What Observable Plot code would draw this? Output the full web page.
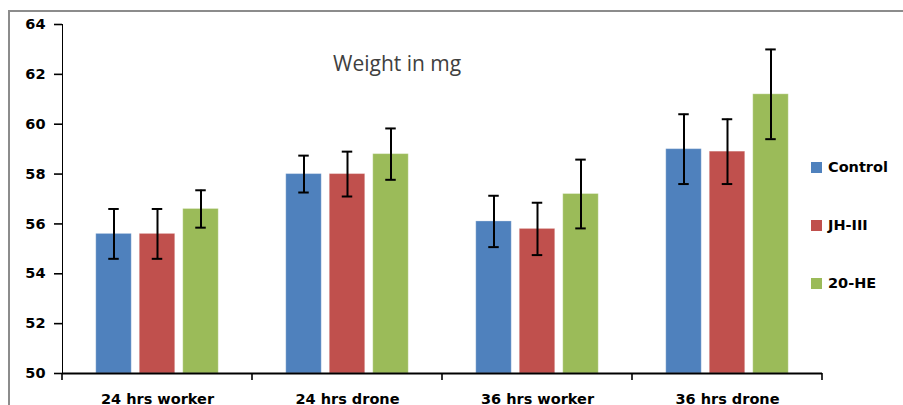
<!DOCTYPE html>
<html>
<head>
<meta charset="utf-8">
<script src="https://cdn.jsdelivr.net/npm/d3@7"></script>
<script src="https://cdn.jsdelivr.net/npm/@observablehq/plot@0.6"></script>
<style>
  html, body { margin: 0; padding: 0; background: #fff; width: 903px; height: 405px; overflow: hidden; }
  #wrap { position: relative; width: 903px; height: 405px; }
  #border { position: absolute; left: 8px; top: 10px; width: 1000px; height: 500px;
            border-left: 2px solid #8c8c8c; border-top: 2px solid #8c8c8c; box-sizing: border-box; }
  #chart { position: absolute; left: 0; top: 0; }
  #title { position: absolute; left: 333px; top: 53px; font-family: "Open Sans", sans-serif;
           font-size: 21px; line-height: 21px; color: #404040; white-space: nowrap; }
  #legend { position: absolute; left: 811px; top: 138px; font-family: "DejaVu Sans", sans-serif;
            font-weight: bold; font-size: 14.5px; color: #000; }
  .item { height: 58px; display: flex; align-items: center; white-space: nowrap; }
  .sw { width: 11px; height: 11px; margin-right: 6px; }
</style>
</head>
<body>
<div id="wrap">
  <div id="border"></div>
  <div id="chart"></div>
  <div id="title">Weight in mg</div>
  <div id="legend"></div>
</div>
<script>
const categories = ["24 hrs worker", "24 hrs drone", "36 hrs worker", "36 hrs drone"];
const series = ["Control", "JH-III", "20-HE"];
const colors = ["#4F81BD", "#C0504D", "#9BBB59"];
const controlMean = [55.6, 58.0, 56.1, 59.0];
const controlErr  = [1.0, 0.74, 1.03, 1.4];
const jhMean      = [55.6, 58.0, 55.8, 58.9];
const jhErr       = [1.0, 0.9, 1.05, 1.3];
const heMean      = [56.6, 58.8, 57.2, 61.2];
const heErr       = [0.75, 1.03, 1.38, 1.8];
const yTicks = [50, 52, 54, 56, 58, 60, 62, 64];

const means = [controlMean, jhMean, heMean];
const errs = [controlErr, jhErr, heErr];
const rows = [];
categories.forEach((c, i) => series.forEach((s, j) => {
  rows.push({category: c, series: s, value: means[j][i], lo: means[j][i] - errs[j][i], hi: means[j][i] + errs[j][i]});
}));

const plot = Plot.plot({
  width: 903,
  height: 405,
  marginLeft: 62,
  marginRight: 81,
  marginTop: 24,
  marginBottom: 32,
  style: {fontFamily: "DejaVu Sans, sans-serif", fontSize: "14.5px", fontWeight: "bold", color: "#000", background: "transparent", overflow: "visible"},
  facet: {data: rows, x: "category"},
  fx: {domain: categories, padding: 0, label: null, tickSize: 0, tickPadding: 20, axis: "bottom"},
  x: {domain: series, paddingInner: 0.184, paddingOuter: 0.776, round: false, axis: null},
  y: {domain: [50, 64], ticks: yTicks, tickSize: 8, tickPadding: 9, label: null, line: true, tickFormat: d => String(d)},
  color: {domain: series, range: colors},
  marks: [
    Plot.barY(rows, {x: "series", y1: 50, y2: "value", fill: "series", stroke: "#ffffff", strokeOpacity: 0.3, strokeWidth: 1}),
    Plot.ruleY([50], {stroke: "#000", strokeWidth: 2}),
    Plot.ruleX(rows, {x: "series", y1: "lo", y2: "hi", stroke: "#000", strokeWidth: 2}),
    Plot.tickY(rows, {x: "series", y: "lo", stroke: "#000", strokeWidth: 2, insetLeft: 12.5, insetRight: 12.5}),
    Plot.tickY(rows, {x: "series", y: "hi", stroke: "#000", strokeWidth: 2, insetLeft: 12.5, insetRight: 12.5})
  ]
});
document.getElementById("chart").appendChild(plot);

// thicken y axis line / ticks
d3.select(plot).selectAll('[aria-label^="y-axis"] path, [aria-label^="y-axis"] line').attr("stroke-width", 1.6);

// category boundary ticks below the x axis, from Plot's own fx and y scales
const fxS = plot.scale("fx");
const yS = plot.scale("y");
const y0 = yS.apply(50);
const bw = fxS.bandwidth;
const edges = categories.map(c => fxS.apply(c)).concat([fxS.apply(categories[categories.length - 1]) + bw]);
const g = d3.select(plot).append("g").attr("aria-label", "category-boundary-ticks");
g.selectAll("line").data(edges).join("line")
  .attr("x1", d => d).attr("x2", d => d)
  .attr("y1", y0).attr("y2", y0 + 7)
  .attr("stroke", "#000").attr("stroke-width", 1.6);

// legend
const legend = d3.select("#legend");
series.forEach((s, i) => {
  const item = legend.append("div").attr("class", "item");
  item.append("div").attr("class", "sw").style("background", colors[i]);
  item.append("span").text(s);
});
</script>
</body>
</html>
